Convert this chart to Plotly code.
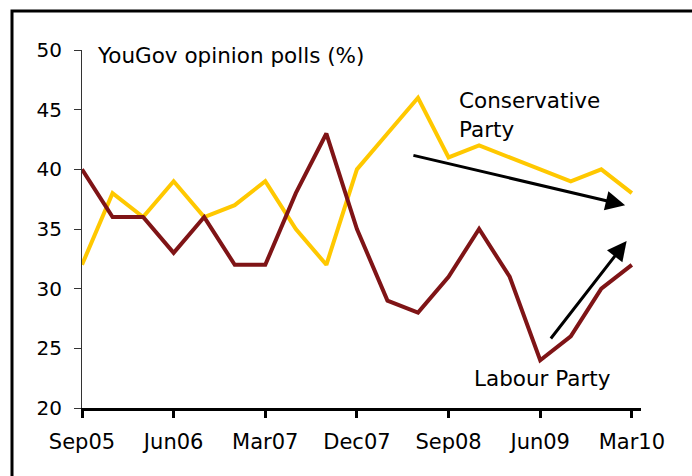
import plotly.graph_objects as go

quarters = ["Sep05", "Dec05", "Mar06", "Jun06", "Sep06", "Dec06", "Mar07", "Jun07",
            "Sep07", "Dec07", "Mar08", "Jun08", "Sep08", "Dec08", "Mar09", "Jun09",
            "Sep09", "Dec09", "Mar10"]
conservative = [32, 38, 36, 39, 36, 37, 39, 35, 32, 40, 43, 46, 41, 42, 41, 40, 39, 40, 38]
labour = [40, 36, 36, 33, 36, 32, 32, 38, 43, 35, 29, 28, 31, 35, 31, 24, 26, 30, 32]
tick_labels = quarters[::3]

FONT = "DejaVu Sans"
TXT = 21.5

fig = go.Figure()
fig.add_trace(go.Scatter(x=quarters, y=conservative, mode="lines",
                         line=dict(color="#FFC800", width=4), name="Conservative Party"))
fig.add_trace(go.Scatter(x=quarters, y=labour, mode="lines",
                         line=dict(color="#7F1416", width=4), name="Labour Party"))

fig.update_layout(
    width=692, height=476,
    margin=dict(l=82, r=51, t=50, b=68),
    paper_bgcolor="white", plot_bgcolor="white",
    showlegend=False,
    font=dict(family=FONT, size=20, color="black"),
)
fig.update_xaxes(type="category", range=[0, 18.3], showgrid=False, zeroline=False,
                 showline=True, linecolor="black", linewidth=3,
                 tickmode="array", tickvals=tick_labels, ticktext=tick_labels,
                 ticks="outside", ticklen=7, tickwidth=3, tickcolor="black",
                 ticklabelstandoff=6,
                 tickfont=dict(family=FONT, size=21))
fig.update_yaxes(range=[20, 50], dtick=5, showgrid=False, zeroline=False,
                 showline=True, linecolor="#333", linewidth=1,
                 ticks="outside", ticklen=7, tickwidth=1, tickcolor="#333",
                 ticklabelstandoff=8,
                 tickfont=dict(family=FONT, size=20))

# outer frame
fig.add_shape(type="rect", xref="paper", yref="paper",
              x0=(12 - 82) / 559, x1=(720 - 82) / 559,
              y0=(408 - 500) / 358, y1=(408 - 11) / 358,
              line=dict(color="black", width=3), fillcolor="rgba(0,0,0,0)", layer="below")

# texts
def label(text, px, py):
    fig.add_annotation(text=text, xref="paper", yref="paper",
                       x=(px - 82) / 559, y=(408 - py) / 358,
                       xanchor="left", yanchor="middle", borderpad=0,
                       showarrow=False, font=dict(family=FONT, size=TXT))

label("YouGov opinion polls (%)", 96, 55)
label("Conservative", 458, 100)
label("Party", 458, 129)
label("Labour Party", 473, 378)

# arrows (trend indicators)
fig.add_annotation(x=17.78, y=37.0, ax=10.8, ay=41.2, xref="x", yref="y",
                   axref="x", ayref="y", text="", showarrow=True,
                   arrowhead=2, arrowsize=1.3, arrowwidth=3, arrowcolor="black")
fig.add_annotation(x=17.83, y=34.0, ax=15.31, ay=25.7, xref="x", yref="y",
                   axref="x", ayref="y", text="", showarrow=True,
                   arrowhead=2, arrowsize=1.3, arrowwidth=3, arrowcolor="black")

fig.write_html("out.html")
